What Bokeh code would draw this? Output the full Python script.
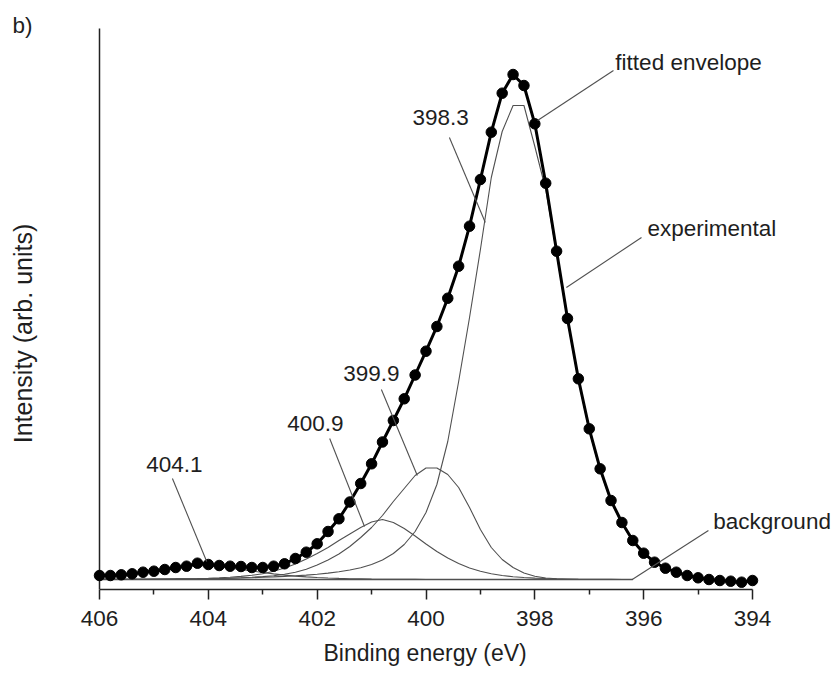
import math
from bokeh.plotting import figure
from bokeh.models import Range1d, FixedTicker, Label, Title
from bokeh.embed import file_html
from bokeh.resources import INLINE

# ---------------- data ----------------
# binding-energy grid of the measured points (406.0 -> 394.0, step 0.2 eV)
energy_exp = [round(406.0 - 0.2 * i, 1) for i in range(61)]
intensity_exp = [14, 14, 14.7, 15.7, 17.3, 18.3, 20, 22, 23.3, 26.3,
                 25, 24, 23.3, 23, 22, 22, 23.3, 25.7, 31, 37.3,
                 45.7, 58, 70.7, 87.5, 106, 125.7, 147.5, 169, 190.7, 214.5,
                 238.3, 263, 291.3, 323.3, 363.3, 410, 457.3, 496.3, 515, 504,
                 465.7, 406.3, 338.3, 271, 210.7, 160.7, 120.7, 89, 67, 49,
                 36.3, 27.3, 21.3, 17.3, 14, 11.7, 10, 9, 8.3, 7.3,
                 9]

# fit region grid (406.0 -> 396.2, step 0.2 eV)
energy_fit = [round(406.0 - 0.2 * i, 1) for i in range(50)]

peak_398_3 = [10.1, 10.1, 10.1, 10.1, 10.2, 10.2, 10.3, 10.4, 10.5, 10.6,
              10.8, 11.0, 11.2, 11.5, 11.8, 12.2, 12.6, 13.1, 13.7, 14.4,
              15.3, 16.4, 17.8, 19.5, 21.8, 25, 29.5, 36, 45, 58,
              77, 105, 148, 208, 272, 340, 412, 458, 484, 484,
              443, 400, 336, 269, 209, 159, 119, 88, 66, 48]
peak_399_9 = [10.2, 10.2, 10.2, 10.3, 10.3, 10.3, 10.4, 10.5, 10.5, 10.6,
              10.8, 11.0, 11.3, 11.7, 12.2, 12.9, 13.8, 15.2, 17.2, 20.2,
              24.5, 29.5, 35.5, 43, 52, 62, 74, 88, 101, 114,
              121.5, 121.5, 115, 102, 82, 60, 42, 30, 22, 16.5,
              13.2, 11.5, 10.7, 10.3, 10.1, 10, 10, 10, 10, 10]
peak_400_9 = [10.1, 10.1, 10.2, 10.2, 10.3, 10.4, 10.5, 10.6, 10.8, 11.0,
              11.3, 11.7, 12.3, 13.1, 14.2, 15.8, 18.2, 21.5, 25.5, 30.5,
              36, 42, 49, 55.5, 62, 67.5, 70, 67, 61, 53.5,
              45.5, 38, 31.5, 26, 21.5, 18.3, 15.8, 14, 12.8, 12,
              11.4, 11, 10.7, 10.5, 10.3, 10.2, 10.1, 10.1, 10, 10]
peak_404_1 = [13.5, 13.8, 14.3, 15.2, 16.5, 17.8, 19.5, 21.3, 22.8, 23.8,
              23.8, 22.8, 21.5, 20, 18.5, 17, 15.6, 14.4, 13.4, 12.6,
              12, 11.5, 11.1, 10.8, 10.6, 10.4, 10.3, 10.2, 10.1, 10.1,
              10, 10, 10, 10, 10, 10, 10, 10, 10, 10,
              10, 10, 10, 10, 10, 10, 10, 10, 10, 10]

background_x = [406.0, 396.2]
background_y = [10, 10]

x_ticks = [406, 404, 402, 400, 398, 396, 394]
x_minor_ticks = [405, 403, 401, 399, 397, 395]
x_axis_span = (394, 406)
y_axis_span = (0, 561)

# annotations: (text, text x, text y, leader start x, y, leader end x, y)
annotations = [
    ("fitted envelope", 396.52, 527, 396.555, 519, 397.95, 469),
    ("experimental", 395.93, 361, 396.04, 352, 397.42, 302),
    ("398.3", 400.25, 472, 399.57, 452, 398.91, 367),
    ("399.9", 401.52, 216, 400.82, 200, 400.16, 114),
    ("400.9", 402.55, 166, 401.77, 151, 401.13, 63),
    ("404.1", 405.14, 125, 404.66, 111, 404.03, 28),
    ("background", 394.72, 68, 394.81, 59, 396.21, 10),
]

# ---------------- layout ----------------
W, H = 832, 676
AX_LEFT_PX, AX_RIGHT_PX, AX_BOTTOM_PX = 99, 752, 589
px_per_ev = (AX_RIGHT_PX - AX_LEFT_PX) / (x_axis_span[1] - x_axis_span[0])
x_start = x_axis_span[1] + AX_LEFT_PX / px_per_ev
x_end = x_axis_span[0] - (W - AX_RIGHT_PX) / px_per_ev

FONT = "Liberation Sans"
TXT = "#1e1e1e"
GRAY = "#505050"
AXC = "#222222"
FS = "22.5px"

p = figure(width=W, height=H,
           x_range=Range1d(x_start, x_end), y_range=Range1d(0, AX_BOTTOM_PX),
           output_backend="svg", toolbar_location=None, y_axis_location=None,
           min_border_left=0, min_border_right=0,
           min_border_top=0, min_border_bottom=H - AX_BOTTOM_PX)
p.xgrid.visible = False
p.ygrid.visible = False
p.outline_line_color = None
p.background_fill_color = "white"
p.border_fill_color = "white"

# x axis
xa = p.xaxis[0]
xa.bounds = x_axis_span
xa.ticker = FixedTicker(ticks=x_ticks, minor_ticks=x_minor_ticks)
xa.axis_line_color = AXC
xa.axis_line_width = 1.5
xa.major_tick_line_color = AXC
xa.major_tick_line_width = 1.5
xa.minor_tick_line_color = AXC
xa.minor_tick_line_width = 1.5
xa.major_tick_in = 0
xa.major_tick_out = 10
xa.minor_tick_in = 0
xa.minor_tick_out = 5
xa.major_label_text_font = FONT
xa.major_label_text_font_size = FS
xa.major_label_text_color = TXT
xa.major_label_standoff = 11

p.add_layout(Title(text="Binding energy (eV)", align="left", offset=323,
                   standoff=19, vertical_align="bottom",
                   text_font=FONT, text_font_size="23px",
                   text_font_style="normal", text_color=TXT), "below")

# y axis line (left spine at 406 eV)
p.segment(x0=[x_axis_span[1]], y0=[y_axis_span[0]], x1=[x_axis_span[1]], y1=[y_axis_span[1]],
          line_color=AXC, line_width=1.5)

# components and background
for comp in (peak_398_3, peak_399_9, peak_400_9, peak_404_1):
    p.line(energy_fit, comp, line_color=GRAY, line_width=1.1)
p.line(background_x, background_y, line_color=GRAY, line_width=1.3)

# experimental / fitted envelope
p.line(energy_exp, intensity_exp, line_color="black", line_width=3)
p.scatter(energy_exp, intensity_exp, size=10.5, marker="circle",
          fill_color="black", line_color="black")

# leaders and texts
for text, tx, ty, x0, y0, x1, y1 in annotations:
    p.segment(x0=[x0], y0=[y0], x1=[x1], y1=[y1], line_color=GRAY, line_width=1.1)
    p.add_layout(Label(x=tx, y=ty, text=text, text_font=FONT,
                       text_font_size=FS, text_color=TXT,
                       text_align="left", text_baseline="middle"))

# y-axis title and panel letter
p.add_layout(Label(x=22, y=AX_BOTTOM_PX - 333, x_units="screen", y_units="screen",
                   text="Intensity (arb. units)", angle=math.pi / 2,
                   text_font=FONT, text_font_size="25px", text_color=TXT,
                   text_align="center", text_baseline="middle"))
p.add_layout(Label(x=12, y=AX_BOTTOM_PX - 25, x_units="screen", y_units="screen",
                   text="b)", text_font=FONT, text_font_size=FS,
                   text_color=TXT, text_align="left", text_baseline="middle"))

open("out.html", "w").write(file_html(p, INLINE))
